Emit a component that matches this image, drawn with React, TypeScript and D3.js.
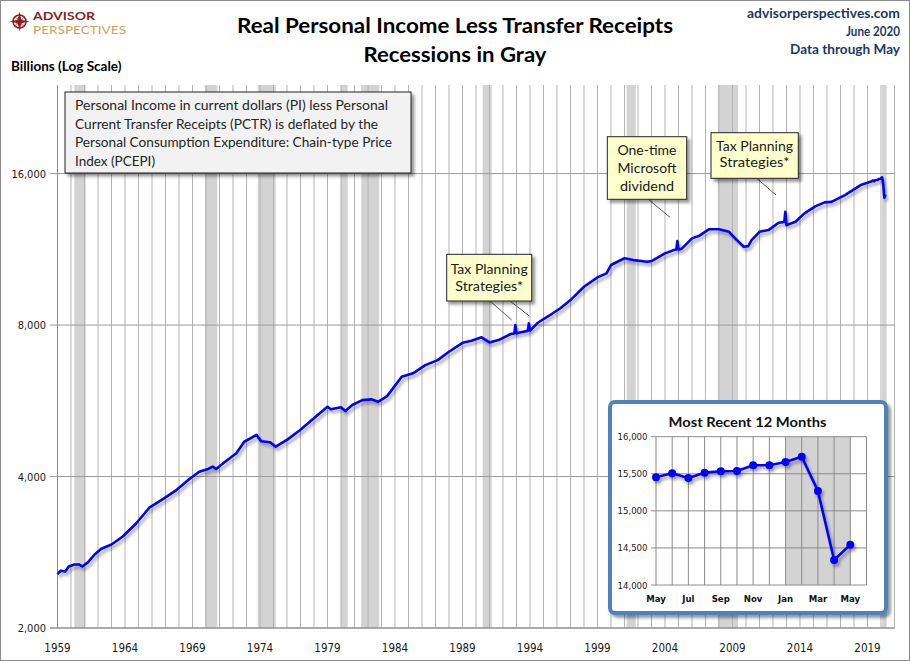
import React from 'react';
import * as d3 from 'd3';

const W = 910;
const H = 661;

const dates = [
  '1959-01', '1959-04', '1959-08', '1959-11', '1960-04', '1960-08', '1960-11', '1961-04', '1961-10',
  '1962-04', '1963-01', '1963-11', '1964-11', '1965-11', '1966-11', '1967-10', '1968-10', '1969-07',
  '1970-03', '1970-07', '1970-10', '1971-06', '1972-04', '1972-11', '1973-10', '1974-02', '1974-10',
  '1975-03', '1976-01', '1977-01', '1977-11', '1979-01', '1979-04', '1980-01', '1980-05', '1980-11',
  '1981-08', '1982-04', '1982-10', '1983-06', '1984-07', '1985-05', '1986-04', '1987-03', '1988-01',
  '1989-01', '1989-09', '1990-06', '1991-01', '1991-09', '1992-08', '1992-11', '1992-12', '1993-01',
  '1993-03', '1993-11', '1993-12', '1994-01', '1994-08', '1995-06', '1996-04', '1997-01', '1998-01',
  '1999-01', '1999-09', '2000-01', '2001-01', '2001-09', '2002-09', '2003-01', '2004-01', '2004-09',
  '2004-11', '2004-12', '2005-01', '2005-04', '2006-01', '2006-07', '2007-04', '2008-01', '2008-10',
  '2009-01', '2009-05', '2009-11', '2010-03', '2010-06', '2011-01', '2011-09', '2012-06', '2012-11',
  '2012-12', '2013-01', '2013-09', '2014-05', '2015-03', '2015-11', '2016-05', '2017-05', '2018-07',
  '2019-05', '2019-06', '2019-07', '2019-08', '2019-09', '2019-10', '2019-11', '2019-12', '2020-01',
  '2020-02', '2020-03', '2020-04', '2020-05',
];
const income = [
  2560, 2600, 2590, 2650, 2675, 2675, 2650, 2700, 2800,
  2875, 2930, 3040, 3230, 3475, 3610, 3750, 3950, 4090,
  4140, 4185, 4140, 4280, 4450, 4690, 4840, 4700, 4680,
  4585, 4730, 4955, 5180, 5505, 5440, 5490, 5400, 5550,
  5675, 5695, 5630, 5780, 6315, 6415, 6660, 6815, 7080,
  7375, 7445, 7565, 7390, 7470, 7680, 7700, 8000, 7700,
  7720, 7790, 8060, 7800, 8085, 8350, 8640, 8970, 9535,
  9950, 10135, 10530, 10860, 10770, 10690, 10720, 11105, 11275,
  11300, 11750, 11300, 11350, 11895, 12020, 12400, 12400, 12260,
  12050, 11800, 11450, 11480, 11800, 12260, 12355, 12775, 12820,
  13440, 12640, 12835, 13335, 13790, 14025, 14060, 14500, 15180,
  15453, 15506, 15443, 15515, 15533, 15537, 15614, 15614, 15659,
  15730, 15268, 14337, 14544,
];

const recessionStart = ['1960-04', '1969-12', '1973-11', '1980-01', '1981-07', '1990-07', '2001-03', '2007-12', '2020-02'];
const recessionEnd = ['1961-02', '1970-11', '1975-03', '1980-07', '1982-11', '1991-03', '2001-11', '2009-06', '2020-06'];

const yTicks = [2000, 4000, 8000, 16000];
const xLabelYears = [1959, 1964, 1969, 1974, 1979, 1984, 1989, 1994, 1999, 2004, 2009, 2014, 2019];

// inset: most recent 12 months
const recentLabels = ['May', 'Jun', 'Jul', 'Aug', 'Sep', 'Oct', 'Nov', 'Dec', 'Jan', 'Feb', 'Mar', 'Apr', 'May'];
const recentValues = [15453, 15506, 15443, 15515, 15533, 15537, 15614, 15614, 15659, 15730, 15268, 14337, 14544];
const recentTicks = [14000, 14500, 15000, 15500, 16000];
const recentShade = ['Jan', 'May'];

const parse = d3.timeParse('%Y-%m');
const fmt = d3.format(',');

const CAL = 'Lato, "Open Sans", sans-serif';
const TAH = '"DejaVu Sans Condensed", "DejaVu Sans", sans-serif';

export default function App() {
  const x = d3.scaleTime()
    .domain([new Date(1959, 0, 1), new Date(2021, 0, 1)])
    .range([57.5, 894.5]);
  const y = d3.scaleLog().base(2).domain([2000, 24000]).range([628, 85]);

  const pts = dates.map((d, i) => ({ date: parse(d) as Date, v: income[i] }));
  const line = d3.line<{ date: Date; v: number }>()
    .x(d => x(d.date))
    .y(d => y(d.v));

  const years = d3.range(1959, 2022);

  // inset scales
  const ix = d3.scaleLinear().domain([0, 13]).range([656, 866.5]);
  const iy = d3.scaleLinear().domain([14000, 16000]).range([585, 436.7]);
  const iline = d3.line<number>().x((_, i) => ix(i)).y(v => iy(v));
  const shadeFrom = recentLabels.indexOf(recentShade[0]);
  const shadeTo = recentLabels.lastIndexOf(recentShade[1]);

  const noteLines = [
    ['Personal Income in current dollars  (PI) less Personal', 313],
    ['Current Transfer Receipts (PCTR) is deflated by the', 303],
    ['Personal Consumption Expenditure: Chain-type Price', 317],
    ['Index (PCEPI)', 80],
  ] as const;

  return (
    <svg width={W} height={H} style={{ position: 'absolute', left: 0, top: 0, background: '#fff' }}>
      <defs>
        <filter id="lineShadow" filterUnits="userSpaceOnUse" x="0" y="0" width={W} height={H}>
          <feDropShadow dx="2" dy="3" stdDeviation="1.6" floodColor="#000" floodOpacity="0.35" />
        </filter>
        <filter id="boxShadow" filterUnits="userSpaceOnUse" x="0" y="0" width={W} height={H}>
          <feDropShadow dx="3" dy="3" stdDeviation="1.5" floodColor="#000" floodOpacity="0.4" />
        </filter>
      </defs>
      <rect x={0.5} y={0.5} width={W - 1} height={H - 1} fill="#fff" stroke="#8c8c8c" />

      {/* recessions */}
      {recessionStart.map((s, i) => {
        const x0 = x(parse(s) as Date);
        const x1 = x(parse(recessionEnd[i]) as Date);
        return <rect key={s} x={x0} y={85} width={x1 - x0} height={628 - 85} fill="#d3d3d3" />;
      })}

      {/* grid */}
      {years.map(yr => (
        <line key={yr} x1={x(new Date(yr, 0, 1))} x2={x(new Date(yr, 0, 1))} y1={85} y2={628}
          stroke="#b4b4b4" strokeWidth={1} />
      ))}
      {yTicks.map(t => (
        <line key={t} x1={50} x2={894.5} y1={y(t)} y2={y(t)} stroke="#9a9a9a" strokeWidth={1} />
      ))}
      <line x1={57.5} x2={57.5} y1={85} y2={628} stroke="#8a8a8a" />
      <line x1={50} x2={894.5} y1={628} y2={628} stroke="#8a8a8a" />

      {/* axis labels */}
      {yTicks.map(t => (
        <text key={t} x={46} y={y(t) + 4} textAnchor="end" fontFamily={TAH} fontSize={11} fill="#1a1a1a">
          {fmt(t)}
        </text>
      ))}
      {xLabelYears.map(yr => (
        <text key={yr} x={x(new Date(yr, 0, 1))} y={652} textAnchor="middle" fontFamily={TAH} fontSize={11.5} fill="#1a1a1a">
          {yr}
        </text>
      ))}

      {/* main line */}
      <path d={line(pts) || ''} fill="none" stroke="#0000ff" strokeWidth={2.6} strokeLinejoin="round"
        filter="url(#lineShadow)" />

      {/* header */}
      <g>
        <circle cx={19.5} cy={21.5} r={6.5} fill="none" stroke="#8b1e1e" strokeWidth={1.5} />
        <path d="M19.5,11.5 L21.3,19.7 L29.5,21.5 L21.3,23.3 L19.5,31.5 L17.7,23.3 L9.5,21.5 L17.7,19.7 Z" fill="#8b1e1e" />
        <path d="M14.5,16.5 L20.5,20.5 L24.5,16.5 L20.5,22.5 L24.5,26.5 L18.5,22.5 L14.5,26.5 L18.5,20.5 Z" fill="#8b1e1e" />
        <text x={33} y={19.6} fontFamily={CAL} fontWeight={700} fontSize={12} fill="#8b1e1e" textLength={62} lengthAdjust="spacingAndGlyphs">ADVISOR</text>
        <text x={33} y={33.6} fontFamily={CAL} fontSize={11.5} fill="#c9a55c" textLength={93} lengthAdjust="spacingAndGlyphs">PERSPECTIVES</text>
      </g>
      <text x={455} y={33} textAnchor="middle" fontFamily={CAL} fontWeight={700} fontSize={21} fill="#000" textLength={436} lengthAdjust="spacingAndGlyphs">
        Real Personal Income Less Transfer Receipts
      </text>
      <text x={455} y={62} textAnchor="middle" fontFamily={CAL} fontWeight={700} fontSize={21} fill="#000" textLength={183} lengthAdjust="spacingAndGlyphs">
        Recessions in Gray
      </text>
      <text x={900} y={18.3} textAnchor="end" fontFamily={CAL} fontWeight={700} fontSize={14} fill="#1f3864" textLength={153} lengthAdjust="spacingAndGlyphs">advisorperspectives.com</text>
      <text x={900} y={36} textAnchor="end" fontFamily={CAL} fontWeight={700} fontSize={14} fill="#1f3864" textLength={54} lengthAdjust="spacingAndGlyphs">June 2020</text>
      <text x={900} y={54.3} textAnchor="end" fontFamily={CAL} fontWeight={700} fontSize={14} fill="#1f3864" textLength={110} lengthAdjust="spacingAndGlyphs">Data through May</text>
      <text x={11} y={70.7} fontFamily={CAL} fontWeight={700} fontSize={13} fill="#000" textLength={110.5} lengthAdjust="spacingAndGlyphs">Billions (Log Scale)</text>

      {/* note box */}
      <rect x={65} y={92} width={346} height={81} fill="#f2f2f2" stroke="#222" strokeWidth={1} filter="url(#boxShadow)" />
      {noteLines.map(([t, len], i) => (
        <text key={i} x={75} y={110 + i * 18.5} fontFamily={CAL} fontSize={12.5} fill="#262626" textLength={len} lengthAdjust="spacingAndGlyphs">{t}</text>
      ))}

      {/* annotations */}
      <g stroke="#333" strokeWidth={0.8}>
        <line x1={490} y1={301} x2={511.7} y2={320} />
        <line x1={510} y1={301} x2={529.3} y2={316} />
        <line x1={648.3} y1={199.3} x2={670} y2={217.3} />
        <line x1={756.7} y1={178.3} x2={776} y2={195} />
      </g>
      <rect x={446.7} y={254.3} width={85} height={46.7} fill="#ffffcc" stroke="#222" filter="url(#boxShadow)" />
      <text x={489.2} y={274.3} textAnchor="middle" fontFamily={CAL} fontSize={14} fill="#1a1a1a" textLength={77} lengthAdjust="spacingAndGlyphs">Tax Planning</text>
      <text x={489.2} y={290.5} textAnchor="middle" fontFamily={CAL} fontSize={14} fill="#1a1a1a" textLength={68} lengthAdjust="spacingAndGlyphs">Strategies*</text>

      <rect x={607.3} y={136.7} width={79.4} height={62.6} fill="#ffffcc" stroke="#222" filter="url(#boxShadow)" />
      <text x={647} y={155} textAnchor="middle" fontFamily={CAL} fontSize={14} fill="#1a1a1a" textLength={59} lengthAdjust="spacingAndGlyphs">One-time</text>
      <text x={647} y={173.3} textAnchor="middle" fontFamily={CAL} fontSize={14} fill="#1a1a1a" textLength={59} lengthAdjust="spacingAndGlyphs">Microsoft</text>
      <text x={647} y={190.7} textAnchor="middle" fontFamily={CAL} fontSize={14} fill="#1a1a1a" textLength={54} lengthAdjust="spacingAndGlyphs">dividend</text>

      <rect x={711} y={132.7} width={87.3} height={45.6} fill="#ffffcc" stroke="#222" filter="url(#boxShadow)" />
      <text x={754.6} y={150.7} textAnchor="middle" fontFamily={CAL} fontSize={14} fill="#1a1a1a" textLength={77} lengthAdjust="spacingAndGlyphs">Tax Planning</text>
      <text x={754.6} y={167.3} textAnchor="middle" fontFamily={CAL} fontSize={14} fill="#1a1a1a" textLength={70} lengthAdjust="spacingAndGlyphs">Strategies*</text>

      {/* inset */}
      <rect x={610} y={402} width={276} height={211} rx={5} fill="#fff" stroke="#4f81bd" strokeWidth={4} filter="url(#boxShadow)" />
      <text x={747.5} y={426.7} textAnchor="middle" fontFamily={CAL} fontWeight={700} fontSize={14} fill="#111" textLength={158} lengthAdjust="spacingAndGlyphs">
        Most Recent 12 Months
      </text>
      <rect x={ix(shadeFrom)} y={iy(16000)} width={ix(shadeTo) - ix(shadeFrom)} height={iy(14000) - iy(16000)} fill="#d3d3d3" />
      {d3.range(0, 14).map(i => (
        <line key={i} x1={ix(i)} x2={ix(i)} y1={iy(16000)} y2={iy(14000)} stroke="#8c8c8c" strokeWidth={1} />
      ))}
      {recentTicks.map(t => (
        <g key={t}>
          <line x1={651} x2={ix(13)} y1={iy(t)} y2={iy(t)} stroke="#8c8c8c" strokeWidth={1} />
          <text x={647.5} y={iy(t) + 3.5} textAnchor="end" fontFamily={TAH} fontSize={9.5} fill="#1a1a1a">{fmt(t)}</text>
        </g>
      ))}
      {recentLabels.map((l, i) => i % 2 === 0 && (
        <text key={i} x={ix(i)} y={601.7} textAnchor="middle" fontFamily={TAH} fontWeight={700} fontSize={9.5} fill="#111">{l}</text>
      ))}
      <g filter="url(#lineShadow)">
        <path d={iline(recentValues) || ''} fill="none" stroke="#0000ff" strokeWidth={2.6} strokeLinejoin="round" />
        {recentValues.map((v, i) => (
          <circle key={i} cx={ix(i)} cy={iy(v)} r={4} fill="#0000ff" />
        ))}
      </g>
    </svg>
  );
}
